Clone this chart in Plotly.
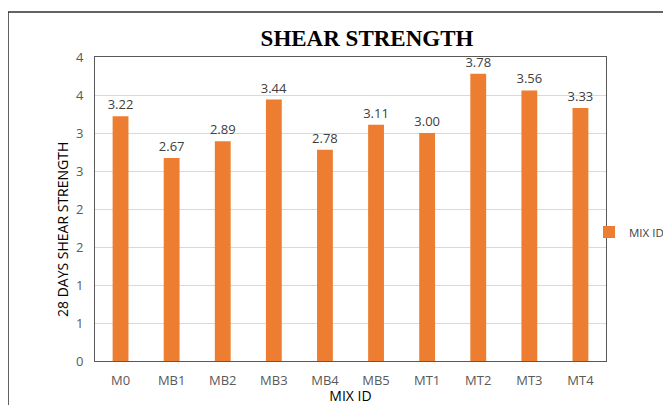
import plotly.graph_objects as go

mix_ids = ["M0", "MB1", "MB2", "MB3", "MB4", "MB5", "MT1", "MT2", "MT3", "MT4"]
shear_strength = [3.22, 2.67, 2.89, 3.44, 2.78, 3.11, 3.00, 3.78, 3.56, 3.33]
y_tick_vals = [0, 0.5, 1, 1.5, 2, 2.5, 3, 3.5, 4]
y_tick_text = ["0", "1", "1", "2", "2", "3", "3", "4", "4"]

# page has an 8px body margin, so the figure is drawn offset by 8px
OFF = 8
W, H = 671 - OFF, 405 - OFF
L, T, B = 95 - OFF, 57 - OFF, 405 - 361
R = W - (606 - OFF)
pw, ph = W - L - R, H - T - B

def px_x(p):  # page pixel -> paper x
    return (p - OFF - L) / pw

def px_y(p):  # page pixel -> paper y
    return (H - B - (p - OFF)) / ph

fig = go.Figure()
fig.add_trace(go.Bar(
    x=mix_ids, y=shear_strength, name="MIX ID",
    marker=dict(color="#ED7D31", line=dict(width=0)),
    text=[f"{v:.2f}" for v in shear_strength],
    textposition="outside", constraintext="none",
    textfont=dict(family="Open Sans", size=13, color="#404040"),
    cliponaxis=False,
))

fig.update_layout(
    width=W, height=H,
    margin=dict(l=L, r=R, t=T, b=B, autoexpand=False),
    paper_bgcolor="white", plot_bgcolor="white",
    bargap=0.69,
    showlegend=True,
    legend=dict(x=px_x(589), y=px_y(232), xanchor="left", yanchor="middle",
                font=dict(family="Open Sans", size=11.5, color="#404040"),
                itemwidth=30, bgcolor="rgba(0,0,0,0)", borderwidth=0),
    title=dict(text="<b>SHEAR STRENGTH</b>", x=px_x(367), xref="paper", xanchor="center",
               y=1 - (38 - OFF) / H, yanchor="middle",
               font=dict(family="Liberation Serif", size=23, color="black")),
    xaxis=dict(
        title=dict(text="MIX ID", font=dict(family="Open Sans", size=14, color="black"), standoff=2),
        tickfont=dict(family="Open Sans", size=13, color="#595959"),
        showgrid=False, ticks="", ticklabelstandoff=7,
        showline=True, linecolor="#595959", linewidth=1, mirror=True,
    ),
    yaxis=dict(
        range=[0, 4], tickvals=y_tick_vals, ticktext=y_tick_text,
        tickfont=dict(family="Open Sans", size=13, color="#595959"),
        showgrid=True, gridcolor="#D9D9D9", gridwidth=1,
        zeroline=False, ticks="", ticklabelstandoff=8,
        showline=True, linecolor="#595959", linewidth=1, mirror=True,
    ),
    annotations=[dict(text="28 DAYS SHEAR STRENGTH", xref="paper", yref="paper",
                      x=px_x(62), y=px_y(230), xanchor="center", yanchor="middle",
                      textangle=-90, showarrow=False,
                      font=dict(family="Open Sans", size=14, color="black"))],
    shapes=[dict(type="rect", xref="paper", yref="paper",
                 x0=px_x(8), x1=px_x(720), y0=px_y(440), y1=px_y(12),
                 line=dict(color="#303030", width=1.5), fillcolor="rgba(0,0,0,0)", layer="above")],
)

fig.write_html("out.html")
